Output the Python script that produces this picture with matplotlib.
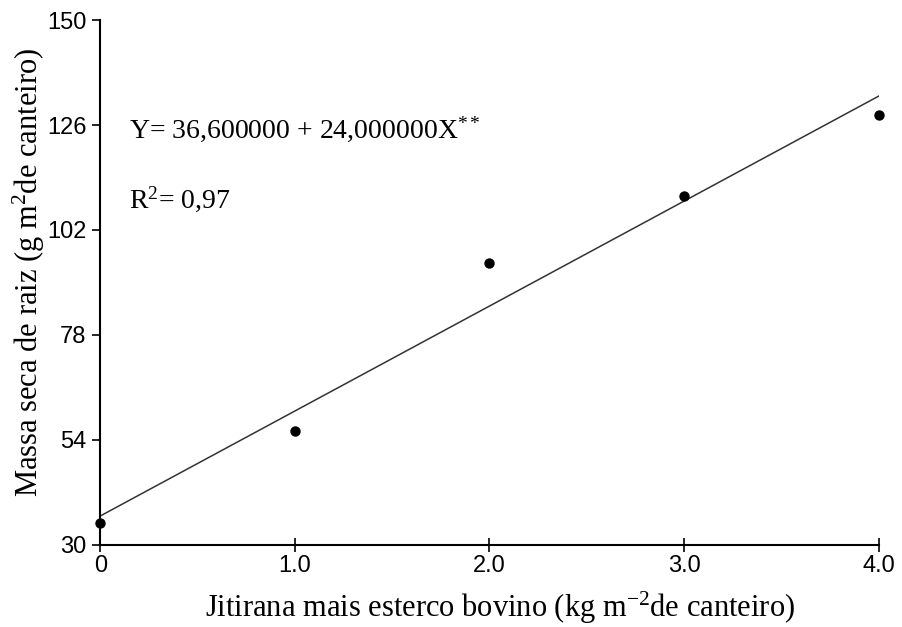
import matplotlib
matplotlib.use("Agg")
import matplotlib.pyplot as plt
import numpy as np

# ==========================================
# Data
# ==========================================

dose = [0.0, 1.0, 2.0, 3.0, 4.0]
massa_raiz = [35.0, 56.1, 94.5, 109.8, 128.3]

intercept = 36.6
slope = 24.0

x_ticks = [0, 1, 2, 3, 4]
x_tick_labels = ["0", "1.0", "2.0", "3.0", "4.0"]
y_ticks = [30, 54, 78, 102, 126, 150]

plt.rcParams["mathtext.fontset"] = "custom"
plt.rcParams["mathtext.rm"] = "Liberation Serif"
plt.rcParams["mathtext.it"] = "Liberation Serif:italic"

serif = "Liberation Serif"
sans = "Liberation Sans"

fig = plt.figure(figsize=(9.03, 6.27), dpi=100)
ax = fig.add_axes([0.111, 0.131, 0.862, 0.837])

x_fit = np.array([0.0, 4.0])
ax.plot(x_fit, intercept + slope * x_fit, color="#333333", linewidth=1.1)

ax.scatter(dose, massa_raiz, s=42, color="black", zorder=3, clip_on=False)

ax.set_xlim(0, 4)
ax.set_ylim(30, 150)

ax.set_xticks(x_ticks)
ax.set_xticklabels(x_tick_labels, fontfamily=sans, fontsize=17)
ax.set_yticks(y_ticks)
ax.set_yticklabels([str(v) for v in y_ticks], fontfamily=sans, fontsize=17)

ax.tick_params(axis="x", direction="inout", length=10, width=1.2, pad=2)
ax.tick_params(axis="y", direction="out", length=6, width=1.2, pad=4)

ax.spines["top"].set_visible(False)
ax.spines["right"].set_visible(False)
ax.spines["left"].set_linewidth(1.5)
ax.spines["bottom"].set_linewidth(1.5)

ax.set_xlabel(
    "Jitirana mais esterco bovino (kg m$^{-2}$de canteiro)",
    fontfamily=serif,
    fontsize=22
)
ax.xaxis.set_label_coords(0.513, -0.085)

ax.set_ylabel(
    "Massa seca de raiz (g m$^{2}$de canteiro)",
    fontfamily=serif,
    fontsize=22
)
ax.yaxis.set_label_coords(-0.068, 0.52)

ax.text(
    0.15, 125,
    "Y= 36,600000 + 24,000000X$^{**}$",
    fontfamily=serif,
    fontsize=20,
    va="center"
)

ax.text(
    0.15, 109,
    "R$^{2}$= 0,97",
    fontfamily=serif,
    fontsize=20,
    va="center"
)

fig.savefig("out.png", dpi=100)
